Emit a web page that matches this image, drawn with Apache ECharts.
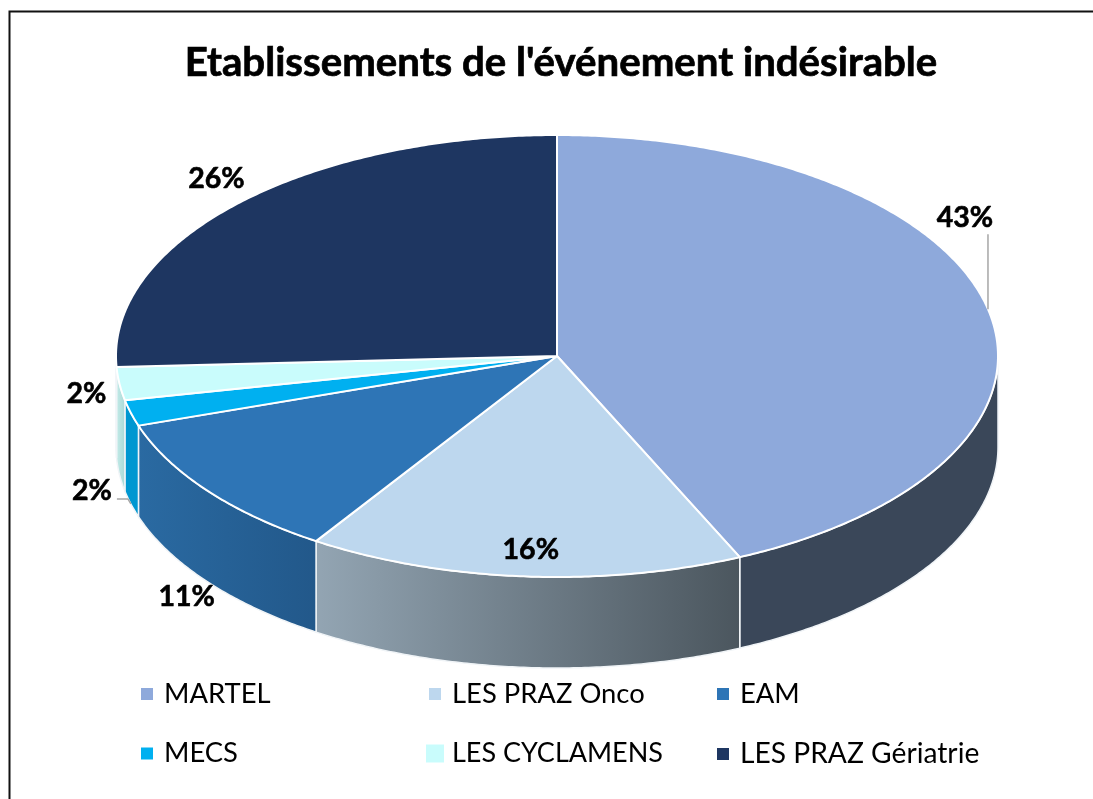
<!DOCTYPE html>
<html>
<head>
<meta charset="utf-8">
<title>Etablissements de l'événement indésirable</title>
<script src="https://cdn.jsdelivr.net/npm/echarts@6/dist/echarts.min.js"></script>
<style>
  html, body { margin: 0; padding: 0; background: #fff; }
  #chart { width: 1093px; height: 799px; }
</style>
</head>
<body>
<div id="chart"></div>
<script>
const names = ['MARTEL', 'LES PRAZ Onco', 'EAM', 'MECS', 'LES CYCLAMENS', 'LES PRAZ Gériatrie'];
const values = [43.2, 16, 10.7, 1.9, 2.4, 25.8];
const colors = ['#8ea9db', '#bdd7ee', '#2e75b6', '#00b0f0', '#c9fcfc', '#1e3661'];
const wallColors = [
  ['#3a4759', '#3a4759'],
  ['#93a5b3', '#4b565e'],
  ['#2a6aa2', '#22588a'],
  ['#0097d1', '#0097d1'],
  ['#c4ece9', '#a9d8d6'],
  ['#1e3661', '#1e3661']
];

// pie geometry
const cx = 557, cy = 356, rx = 441, ry = 221, depth = 91;
const total = values.reduce((a, b) => a + b, 0);
const FONT = 'Lato';

// label offset from the rim point at the middle of each slice
const labelOffsets = [[-23, -92], [7, -28], [-21, 105], [-39, 77], [-33, 9], [-21, -26]];
// leader lines, relative to the same rim point
const leaders = [
  [[0, 0], [0, -75]],
  null,
  null,
  [[0, depth], [-3, depth - 5], [-14, depth - 5]],
  null,
  null
];
const legendPos = [
  { left: 141, top: 680.5, size: 12, pad: 6, font: 27.4 },
  { left: 429, top: 680.5, size: 12, pad: 6, font: 27.4 },
  { left: 717, top: 680.5, size: 12, pad: 6, font: 27.4 },
  { left: 141, top: 740, size: 12, pad: 6, font: 27.4 },
  { left: 426, top: 740, size: 18, pad: 3, font: 27 },
  { left: 717, top: 740, size: 12, pad: 6, font: 28.2 }
];

// angle in degrees clockwise from 12 o'clock -> point on the ellipse
function rim(deg, dy) {
  const a = deg * Math.PI / 180;
  return [cx + rx * Math.sin(a), cy - ry * Math.cos(a) + (dy || 0)];
}

function arc(from, to, dy) {
  const pts = [];
  const n = Math.max(2, Math.ceil(Math.abs(to - from) * 2));
  for (let i = 0; i <= n; i++) {
    pts.push(rim(from + (to - from) * i / n, dy));
  }
  return pts;
}

function startOf(index) {
  let sum = 0;
  for (let i = 0; i < index; i++) sum += values[i];
  return sum / total * 360;
}

function makeRender(index) {
  return function (params, api) {
    const value = api.value(0);
    const start = startOf(index);
    const end = start + value / total * 360;
    const mid = rim((start + end) / 2);
    const children = [];

    // front wall: only the part of the rim facing the viewer
    const wallFrom = Math.max(start, 90);
    const wallTo = Math.min(end, 270);
    if (wallTo > wallFrom) {
      const points = arc(wallFrom, wallTo).concat(arc(wallTo, wallFrom, depth));
      children.push({
        type: 'polygon',
        z2: 1,
        shape: { points: points },
        style: {
          fill: {
            type: 'linear', x: 0, y: 0, x2: 1, y2: 0,
            colorStops: [
              { offset: 0, color: wallColors[index][0] },
              { offset: 1, color: wallColors[index][1] }
            ]
          },
          stroke: '#f0f4f7',
          lineWidth: 1.5
        }
      });
    }

    // top face
    children.push({
      type: 'polygon',
      z2: 2,
      shape: { points: [[cx, cy]].concat(arc(start, end)) },
      style: { fill: colors[index], stroke: '#fff', lineWidth: 2, lineJoin: 'round' }
    });

    if (leaders[index]) {
      children.push({
        type: 'polyline',
        z2: 3,
        shape: { points: leaders[index].map(p => [mid[0] + p[0], mid[1] + p[1]]) },
        style: { fill: 'none', stroke: '#a6a6a6', lineWidth: 1.5 }
      });
    }

    children.push({
      type: 'text',
      z2: 4,
      style: {
        x: mid[0] + labelOffsets[index][0],
        y: mid[1] + labelOffsets[index][1] + 1,
        text: Math.round(value / total * 100) + '%',
        align: 'center',
        verticalAlign: 'middle',
        fill: '#000',
        stroke: '#000',
        lineWidth: 0.6,
        font: 'bold 28.5px ' + FONT
      }
    });

    return { type: 'group', children: children };
  };
}

const chart = echarts.init(document.getElementById('chart'));
chart.setOption({
  animation: false,
  title: {
    text: "Etablissements de l'événement indésirable",
    left: 556,
    top: 38,
    textAlign: 'center',
    textStyle: {
      color: '#000',
      fontFamily: FONT,
      fontWeight: 'bold',
      fontSize: 40.2,
      textBorderColor: '#000',
      textBorderWidth: 0.7
    }
  },
  legend: names.map((name, i) => ({
    data: [name],
    left: legendPos[i].left,
    top: legendPos[i].top,
    padding: 0,
    icon: 'rect',
    itemWidth: legendPos[i].size,
    itemHeight: legendPos[i].size,
    selectedMode: false,
    textStyle: {
      color: '#000',
      fontFamily: FONT,
      fontSize: legendPos[i].font,
      padding: [0, 0, 0, legendPos[i].pad]
    }
  })),
  graphic: [{
    type: 'polyline',
    silent: true,
    shape: { points: [[9.5, 799], [9.5, 11.5], [1093, 11.5]] },
    style: { fill: 'none', stroke: '#111', lineWidth: 2 }
  }],
  series: names.map((name, i) => ({
    name: name,
    type: 'custom',
    coordinateSystem: 'none',
    silent: true,
    itemStyle: { color: colors[i] },
    renderItem: makeRender(i),
    data: [[values[i]]]
  }))
});
</script>
</body>
</html>
